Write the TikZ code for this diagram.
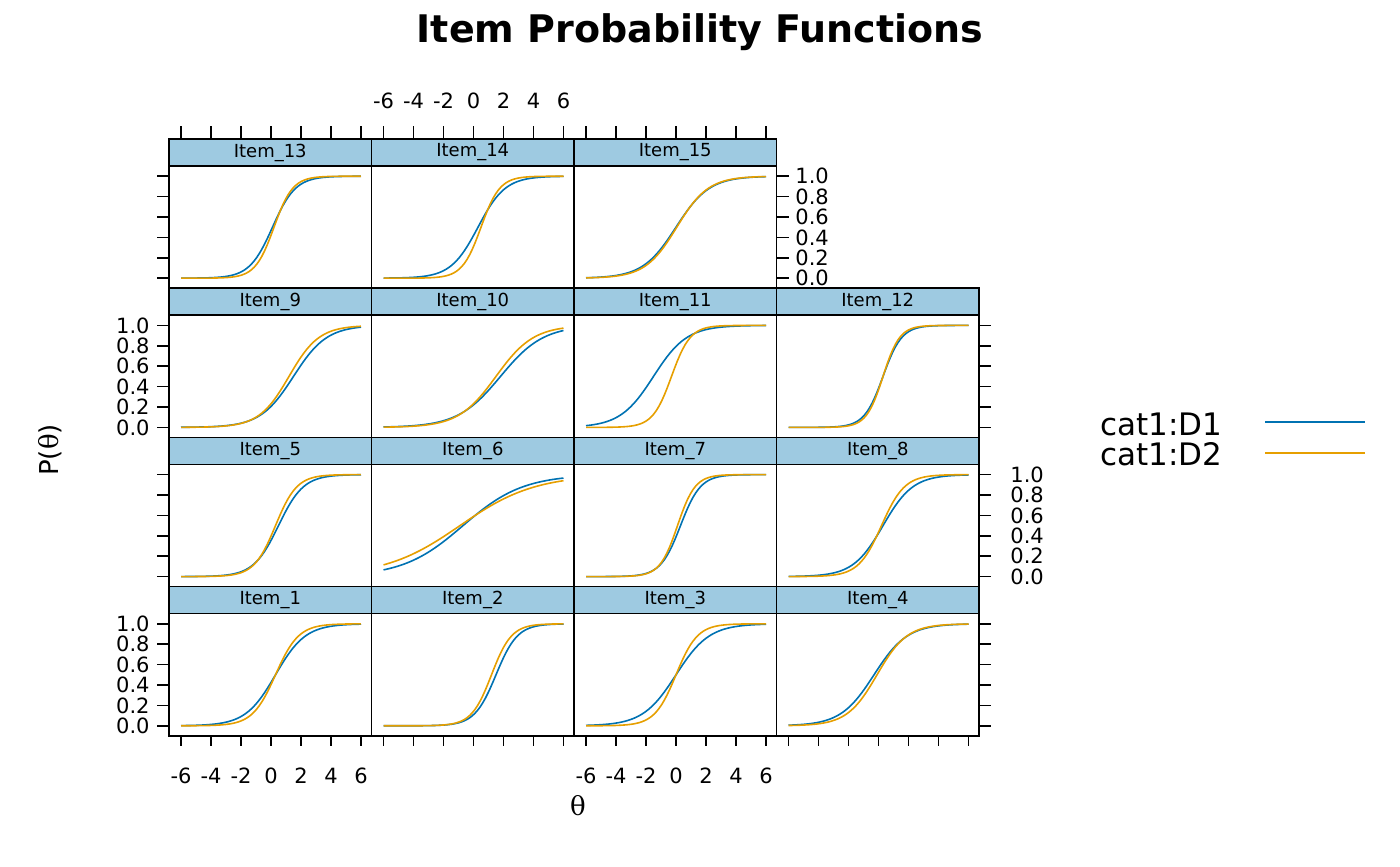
\documentclass[tikz,border=0pt]{standalone}
\usepackage{fontspec}
\setmainfont{DejaVu Sans}
\newfontfamily\thfont{DejaVu Serif}
\begin{document}
\begin{tikzpicture}[x=0.5pt,y=-0.5pt,
  strip/.style={draw=black,fill={rgb,255:red,158;green,202;blue,225},line width=0.8pt},
  box/.style={draw=black,line width=0.8pt},
  tk/.style={line width=0.8pt},
  lab/.style={font=\fontsize{10.5}{10.5}\selectfont,inner sep=0pt},
  c1/.style={color={rgb,255:red,0;green,114;blue,178},line width=0.8pt},
  c2/.style={color={rgb,255:red,230;green,159;blue,0},line width=0.8pt}]
\useasboundingbox (0,0) rectangle (1400,866);
\node[font=\bfseries\fontsize{19}{19}\selectfont] (title) at (700,32) {Item Probability Functions};
\newcommand{\mypanel}[7]{%
  \pgfmathsetmacro\L{169+202.5*(#1-1)}%
  \pgfmathsetmacro\S{139+149.2*(#2-1)}%
  \pgfmathsetmacro\B{\S+149.2}%
  \draw[strip] (\L,\S) rectangle ++(202.5,27);
  \node[font=\fontsize{9}{9}\selectfont] at (\L+101.25,\S+13.5) {#3};
  \draw[c1] plot[domain=-6:6,samples=70,variable=\t] ({\L+12+(\t+6)*15},{\B-10-102/(1+exp(-max(-9,min(9,(#4)*(\t-(#5))))))});
  \draw[c2] plot[domain=-6:6,samples=70,variable=\t] ({\L+12+(\t+6)*15},{\B-10-102/(1+exp(-max(-9,min(9,(#6)*(\t-(#7))))))});
  \draw[box] (\L,\S+27) rectangle (\L+202.5,\B);
}
\mypanel{1}{1}{Item\_13}{1.3}{0.1}{1.6}{0.2}
\mypanel{2}{1}{Item\_14}{1.1}{0.3}{1.6}{0.5}
\mypanel{3}{1}{Item\_15}{0.9}{0}{0.95}{0.05}
\mypanel{1}{2}{Item\_9}{0.9}{1.5}{1.0}{1.2}
\mypanel{2}{2}{Item\_10}{0.7}{1.8}{0.8}{1.5}
\mypanel{3}{2}{Item\_11}{0.9}{-1.5}{1.6}{-0.3}
\mypanel{4}{2}{Item\_12}{1.6}{0.3}{1.8}{0.3}
\mypanel{1}{3}{Item\_5}{1.2}{0.5}{1.4}{0.3}
\mypanel{2}{3}{Item\_6}{0.5}{-0.7}{0.4}{-0.9}
\mypanel{3}{3}{Item\_7}{1.5}{0.3}{1.7}{0.1}
\mypanel{4}{3}{Item\_8}{1.0}{0.3}{1.3}{0.2}
\mypanel{1}{4}{Item\_1}{1.0}{0.3}{1.3}{0.3}
\mypanel{2}{4}{Item\_2}{1.4}{1.5}{1.5}{1.2}
\mypanel{3}{4}{Item\_3}{0.9}{0}{1.4}{0}
\mypanel{4}{4}{Item\_4}{0.9}{-0.3}{1.0}{-0.1}
% x ticks
\foreach \c in {1,...,4}{
  \foreach \v in {-6,-4,...,6}{
    \pgfmathsetmacro\X{169+202.5*(\c-1)+12+(\v+6)*15}
    \draw[tk] (\X,736) -- (\X,746);
  }}
\foreach \c in {1,2,3}{
  \foreach \v in {-6,-4,...,6}{
    \pgfmathsetmacro\X{169+202.5*(\c-1)+12+(\v+6)*15}
    \draw[tk] (\X,139) -- (\X,126);
  }}
\foreach \c/\y in {1/776,3/776,2/101}{
  \foreach \v in {-6,-4,...,6}{
    \pgfmathsetmacro\X{169+202.5*(\c-1)+12+(\v+6)*15}
    \node[lab] at (\X,\y) {\v};
  }}
% y ticks
\foreach \r in {1,...,4}{
  \foreach \v in {0,0.2,...,1.01}{
    \pgfmathsetmacro\Y{139+149.2*\r-10-\v*102}
    \draw[tk] (169,\Y) -- (157,\Y);
    \ifnum\r=1 \draw[tk] (777,\Y) -- (789,\Y); \else \draw[tk] (979,\Y) -- (991,\Y); \fi
  }}
\foreach \r/\side in {2/l,4/l,1/r,3/r}{
  \foreach \v/\t in {0/0.0,0.2/0.2,0.4/0.4,0.6/0.6,0.8/0.8,1/1.0}{
    \pgfmathsetmacro\Y{139+149.2*\r-10-\v*102}
    \if l\side \node[lab,anchor=east] at (150,\Y) {\t};
    \else \ifnum\r=1 \node[lab,anchor=west] at (795,\Y) {\t};
    \else \node[lab,anchor=west] at (1010,\Y) {\t}; \fi\fi
  }}
\node[font=\fontsize{13}{13}\selectfont,rotate=90] (ylab) at (50,450) {P({\thfont θ})};
\node[font=\fontsize{13}{13}\selectfont] (xlab) at (578,806) {{\thfont θ}};
% legend
\node[font=\fontsize{15.5}{15.5}\selectfont,anchor=west,inner sep=0pt] (l1) at (1100,424) {cat1:D1};
\node[font=\fontsize{15.5}{15.5}\selectfont,anchor=west,inner sep=0pt] (l2) at (1100,454) {cat1:D2};
\coordinate (a1) at (1265,422); \coordinate (b1) at (1365,422);
\coordinate (a2) at (1265,453); \coordinate (b2) at (1365,453);
\draw[c1] (a1) -- (b1);
\draw[c2] (a2) -- (b2);
\end{tikzpicture}
\end{document}
